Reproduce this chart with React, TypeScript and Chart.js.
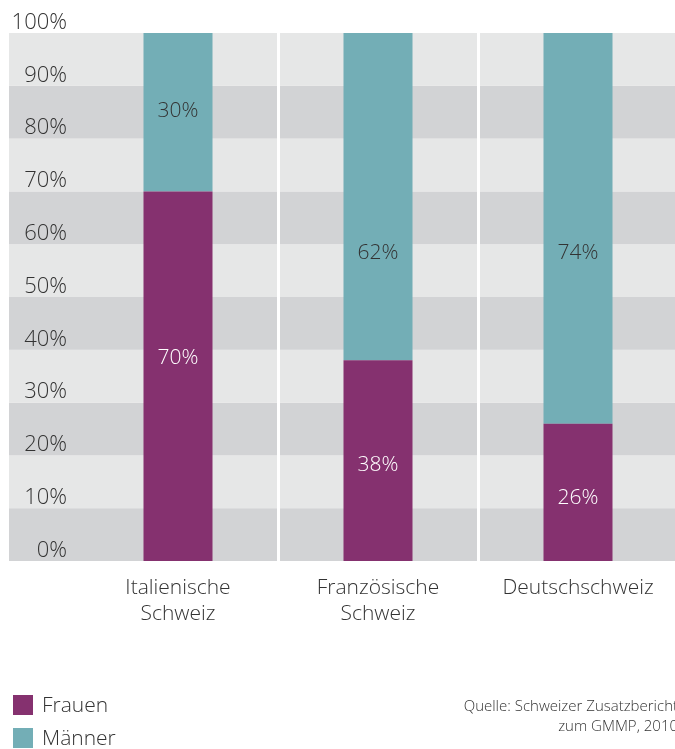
import React, { useEffect, useRef } from "react";
import { Chart, registerables } from "chart.js";

Chart.register(...registerables);

// ---------- data ----------
const categories: (string | string[])[] = [
  ["Italienische", "Schweiz"],
  ["Französische", "Schweiz"],
  "Deutschschweiz",
];
const seriesNames = ["Frauen", "Männer"];
const frauen = [70, 38, 26];
const maenner = [30, 62, 74];
const yTickValues = [0, 10, 20, 30, 40, 50, 60, 70, 80, 90, 100];
const sourceLines = ["Quelle: Schweizer Zusatzbericht", "zum GMMP, 2010"];

// ---------- styles ----------
const FONT = "'Open Sans', 'DejaVu Sans', sans-serif";
const TEXT = "#333333";
const PURPLE = "#85316f";
const TEAL = "#73aeb6";
const BAND_LIGHT = "#e6e7e7";
const BAND_DARK = "#d2d3d5";
// where the in-bar value labels sit (value units on the y scale)
const frauenLabelAt = [38.6, 18.4, 12.1];
const maennerLabelAt = [85.4, 58.6, 58.6];

const bandsPlugin = {
  id: "bands",
  beforeDraw(chart: any) {
    const { ctx, chartArea, scales } = chart;
    const y = scales.y;
    ctx.save();
    for (let i = 0; i < yTickValues.length - 1; i++) {
      const y0 = y.getPixelForValue(yTickValues[i]);
      const y1 = y.getPixelForValue(yTickValues[i + 1]);
      ctx.fillStyle = i % 2 === 0 ? BAND_DARK : BAND_LIGHT;
      ctx.fillRect(9, y1, chartArea.right - 9, y0 - y1);
    }
    ctx.restore();
  },
};

const valueLabelsPlugin = {
  id: "valueLabels",
  afterDatasetsDraw(chart: any) {
    const { ctx, scales } = chart;
    const anchors = [frauenLabelAt, maennerLabelAt];
    const colors = ["#ffffff", TEXT];
    ctx.save();
    ctx.font = `300 21px ${FONT}`;
    ctx.textAlign = "center";
    ctx.textBaseline = "middle";
    chart.data.datasets.forEach((ds: any, di: number) => {
      const meta = chart.getDatasetMeta(di);
      meta.data.forEach((bar: any, i: number) => {
        ctx.fillStyle = colors[di];
        ctx.fillText(ds.data[i] + "%", bar.x, scales.y.getPixelForValue(anchors[di][i]) + 1);
      });
    });
    ctx.restore();
  },
};

const legendSourcePlugin = {
  id: "legendSource",
  afterDraw(chart: any) {
    const { ctx } = chart;
    ctx.save();
    const colors = [PURPLE, TEAL];
    const tops = [695, 728];
    ctx.font = `300 21px ${FONT}`;
    ctx.textBaseline = "middle";
    ctx.textAlign = "left";
    seriesNames.forEach((n, i) => {
      ctx.fillStyle = colors[i];
      ctx.fillRect(13, tops[i], 20, 20);
      ctx.fillStyle = TEXT;
      ctx.fillText(n, 42, tops[i] + 11);
    });
    ctx.font = `300 15px ${FONT}`;
    ctx.textAlign = "right";
    sourceLines.forEach((s, i) => {
      ctx.fillText(s, 678, 707 + i * 20);
    });
    ctx.restore();
  },
};

export default function App() {
  const ref = useRef<HTMLCanvasElement>(null);
  useEffect(() => {
    if (!ref.current) return;
    const chart = new Chart(ref.current, {
      type: "bar",
      data: {
        labels: categories,
        datasets: [
          { label: seriesNames[0], data: frauen, backgroundColor: PURPLE, borderWidth: 0 },
          { label: seriesNames[1], data: maenner, backgroundColor: TEAL, borderWidth: 0 },
        ],
      },
      options: {
        responsive: false,
        animation: false,
        devicePixelRatio: 1,
        layout: { padding: { left: 9, right: 2, top: 33, bottom: 0 } },
        datasets: { bar: { categoryPercentage: 1, barPercentage: 0.345 } },
        plugins: { legend: { display: false }, tooltip: { enabled: false } },
        scales: {
          x: {
            stacked: true,
            border: { display: false },
            grid: {
              offset: true,
              drawTicks: false,
              lineWidth: 3,
              color: (c: any) => (c.index === 1 || c.index === 2 ? "#ffffff" : "rgba(0,0,0,0)"),
            },
            ticks: {
              color: TEXT,
              font: { family: FONT, size: 21, weight: "300", lineHeight: 1.24 },
              padding: 14,
              maxRotation: 0,
              autoSkip: false,
            },
            afterFit: (s: any) => {
              s.height = 188;
            },
          },
          y: {
            stacked: true,
            min: 0,
            max: 100,
            border: { display: false },
            grid: { display: false, drawTicks: false },
            ticks: {
              stepSize: 10,
              color: TEXT,
              font: { family: FONT, size: 22, weight: "300" },
              padding: 11,
              labelOffset: -10.5,
              callback: (v: any) => v + "%",
            },
            afterFit: (s: any) => {
              s.width = 69;
            },
          },
        },
      },
      plugins: [bandsPlugin, valueLabelsPlugin, legendSourcePlugin],
    } as any);
    return () => chart.destroy();
  }, []);

  return (
    <div
      style={{
        position: "fixed",
        left: 0,
        top: 0,
        width: 675,
        height: 749,
        overflow: "hidden",
        background: "#fff",
      }}
    >
      <canvas ref={ref} width={680} height={749} style={{ display: "block" }} />
    </div>
  );
}
